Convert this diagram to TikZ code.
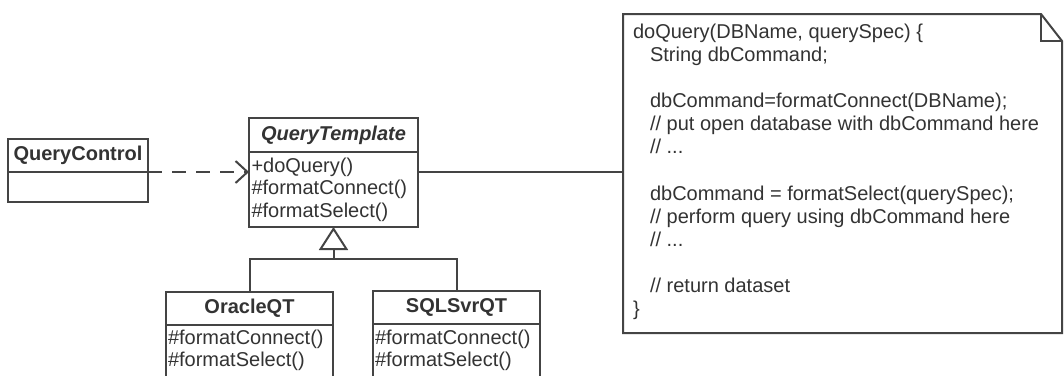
\documentclass[tikz,border=0pt]{standalone}
\usepackage{fontspec}
\setmainfont{Liberation Sans}
\usetikzlibrary{arrows.meta}
\definecolor{ink}{HTML}{333333}
\definecolor{edge}{HTML}{444444}
\begin{document}
\begin{tikzpicture}[x=1pt,y=-1pt,
  every node/.style={text=ink},
  box/.style={draw=edge, line width=2pt, inner sep=0pt, outer sep=0pt, fill=white},
  cname/.style={box, font=\fontsize{20}{24}\selectfont\bfseries},
  mtext/.style={anchor=north west, inner sep=0pt, outer sep=0pt, align=left, font=\fontsize{20}{22.5}\selectfont},
  conn/.style={draw=edge, line width=2pt},
]
\useasboundingbox (0,0) rectangle (1064,375);
\clip (0,0) rectangle (1064,375);
\fill[white] (0,0) rectangle (1064,375);

% QueryControl
\node[cname, minimum width=140pt, minimum height=33pt] (qcn) at (78,155.5) {QueryControl};
\node[box, minimum width=140pt, minimum height=30pt, anchor=north] (qcm) at (qcn.south) {};

% QueryTemplate
\node[cname, font=\fontsize{20}{24}\selectfont\bfseries\itshape, minimum width=169pt, minimum height=34pt] (qtn) at (333.5,135) {QueryTemplate};
\node[box, minimum width=169pt, minimum height=75pt, anchor=north] (qtm) at (qtn.south) {};
\node[mtext] (qtt) at (251.5,156.25) {\strut+doQuery()\\\#formatConnect()\\\#formatSelect()};

% OracleQT
\node[cname, minimum width=167pt, minimum height=33pt] (oran) at (249.5,308.5) {OracleQT};
\node[box, minimum width=167pt, minimum height=70pt, anchor=north] (oram) at (oran.south) {};
\node[mtext] (orat) at (168,328.25) {\strut\#formatConnect()\\\#formatSelect()};

% SQLSvrQT
\node[cname, minimum width=167pt, minimum height=33pt] (sqln) at (456.5,307.5) {SQLSvrQT};
\node[box, minimum width=167pt, minimum height=70pt, anchor=north] (sqlm) at (sqln.south) {};
\node[mtext] (sqlt) at (375,328.25) {\strut\#formatConnect()\\\#formatSelect()};

% note
\node[minimum width=439pt, minimum height=319pt, inner sep=0pt, outer sep=0pt] (note) at (842.5,173.5) {};
\draw[conn, line join=miter] (note.north west) -- ([xshift=-21pt]note.north east) -- ([yshift=-27pt]note.north east) -- (note.south east) -- (note.south west) -- cycle;
\draw[conn] ([xshift=-21pt]note.north east) -- ([xshift=-21pt,yshift=-27pt]note.north east) -- ([yshift=-27pt]note.north east);
\node[anchor=north west, inner sep=0pt, outer sep=0pt, align=left, font=\fontsize{20}{23.1}\selectfont] (code) at (633,22.3) {\strut doQuery(DBName, querySpec) \{\\
\hspace*{17pt}String dbCommand;\\
\strut\\
\hspace*{17pt}dbCommand=formatConnect(DBName);\\
\hspace*{17pt}// put open database with dbCommand here\\
\hspace*{17pt}// ...\\
\strut\\
\hspace*{17pt}dbCommand = formatSelect(querySpec);\\
\hspace*{17pt}// perform query using dbCommand here\\
\hspace*{17pt}// ...\\
\strut\\
\hspace*{17pt}// return dataset\\
\}};

% connectors
\draw[conn, dash pattern=on 14pt off 10pt, -{Straight Barb[length=12pt,width=22pt]}] (qcn.south east) -- (qcn.south east -| qtm.west);
\coordinate (qtc) at ([yshift=-20pt]qtm.north east);
\draw[conn] (qtc) -- (qtc -| note.west);
\coordinate (bar) at ([yshift=33pt]oran.north);
\draw[conn] (oran.north) -- (bar) -| (sqln.north);
\draw[conn, -{Triangle[open, length=23pt, width=29pt]}] (bar -| qtm.south) -- (qtm.south);
\end{tikzpicture}
\end{document}
